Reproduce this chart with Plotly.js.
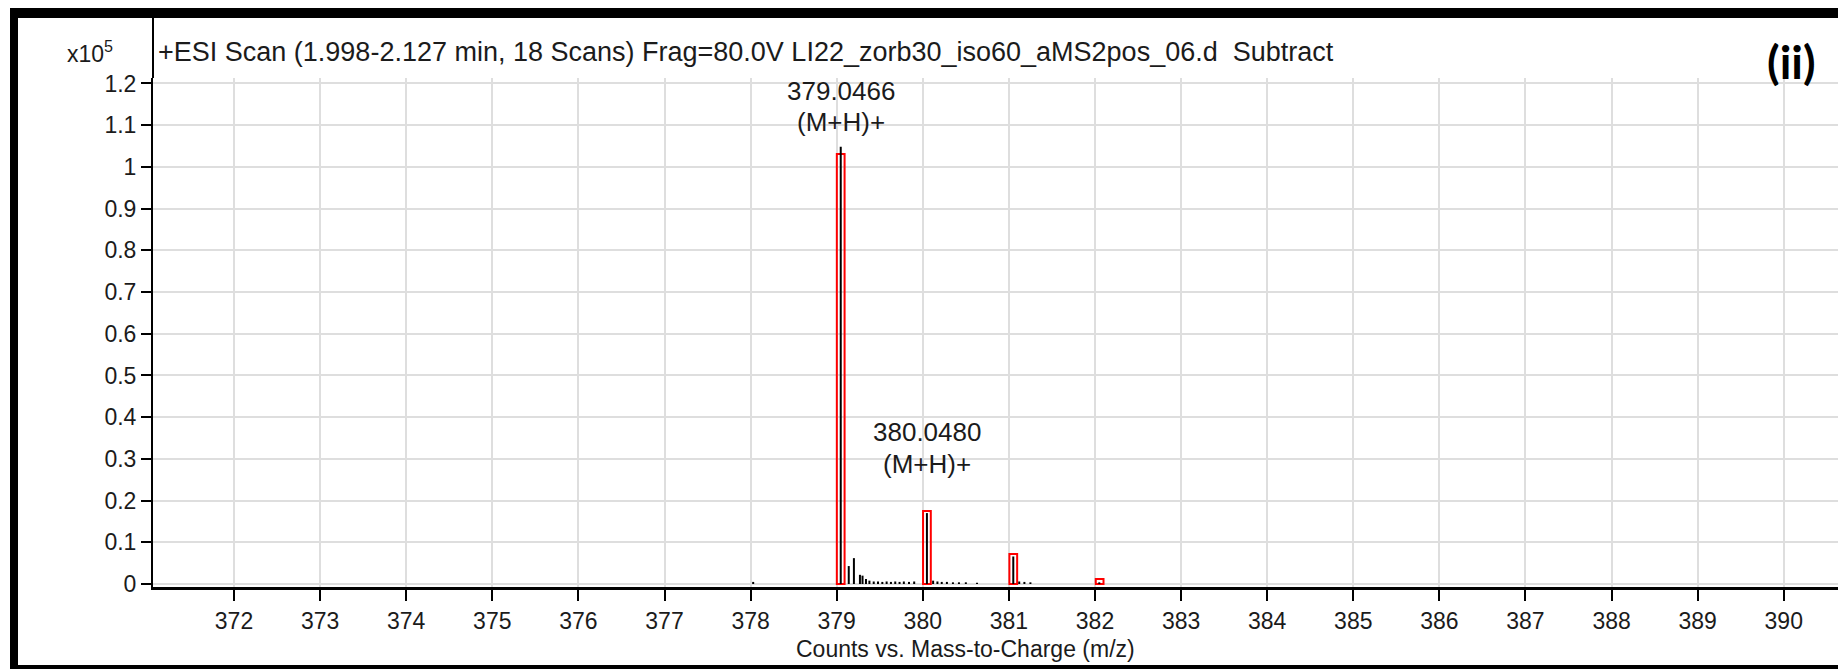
<!DOCTYPE html>
<html><head><meta charset="utf-8">
<script src="https://cdn.plot.ly/plotly-3.0.1.min.js"></script>
<style>html,body{margin:0;padding:0;background:#fff;overflow:hidden}#chart{width:1838px;height:669px}</style>
</head><body><div id="chart"></div>
<script>
// ---- data ----
const titleText = "+ESI Scan (1.998-2.127 min, 18 Scans) Frag=80.0V LI22_zorb30_iso60_aMS2pos_06.d\u00a0\u00a0Subtract";
const xAxisTitle = "Counts vs. Mass-to-Charge (m/z)";
const yScaleLabel = "x10<sup>5</sup>";
const panelLabel = "(ii)";
const xTickVals = [372,373,374,375,376,377,378,379,380,381,382,383,384,385,386,387,388,389,390];
const yTickVals = [0,0.1,0.2,0.3,0.4,0.5,0.6,0.7,0.8,0.9,1,1.1,1.2];
// measured spectrum (m/z, counts x10^5)
const specMz  = [378.03, 379.047, 379.14, 379.20, 379.27, 379.30, 379.34, 379.38, 379.43, 379.48, 379.53, 379.58, 379.63, 379.68, 379.73, 379.78, 379.84, 379.90,
                 380.048, 380.12, 380.17, 380.22, 380.28, 380.35, 380.42, 380.50, 380.63,
                 381.051, 381.12, 381.18, 381.25, 382.05];
const specInt = [0.005, 1.048, 0.043, 0.062, 0.022, 0.020, 0.012, 0.008, 0.006, 0.006, 0.005, 0.006, 0.005, 0.006, 0.005, 0.006, 0.005, 0.006,
                 0.170, 0.008, 0.006, 0.005, 0.005, 0.004, 0.004, 0.004, 0.003,
                 0.066, 0.006, 0.005, 0.004, 0.004];
// predicted isotope pattern boxes
const isoMz  = [379.0466, 380.0480, 381.051, 382.054];
const isoInt = [1.031, 0.175, 0.072, 0.012];
// peak labels
const labelMz    = [379.0466, 380.0480];
const labelMass  = ["379.0466", "380.0480"];
const labelIon   = ["(M+H)+", "(M+H)+"];
const labelMassY = [1.182, 0.364];
const labelIonY  = [1.107, 0.287];

// ---- build sticks ----
const sx = [], sy = [];
specMz.forEach((m, i) => { sx.push(m, m, null); sy.push(0, specInt[i], null); });

const FONT = "Liberation Sans, Arial, sans-serif";
const TXT = "#1b1b1b";
const W = 1838, H = 669, L = 153, T = 78, B = 82;
const plotH = H - T - B, plotW = W - L;
const py = p => (H - B - p) / plotH;   // pixel y -> paper y
const px = p => (p - L) / plotW;       // pixel x -> paper x

const traces = [
  {type: "bar", x: isoMz, y: isoInt, width: 0.09,
   marker: {color: "rgba(0,0,0,0)", line: {color: "#ff0000", width: 2}},
   hoverinfo: "skip", showlegend: false},
  {type: "scatter", mode: "lines", x: sx, y: sy,
   line: {color: "#000", width: 2}, hoverinfo: "skip", showlegend: false, connectgaps: false}
];

const annotations = [];
labelMz.forEach((m, i) => {
  annotations.push({x: m, y: labelMassY[i], xref: "x", yref: "y", text: labelMass[i], showarrow: false,
    xanchor: "center", yanchor: "middle", font: {family: FONT, size: 26, color: TXT}});
  annotations.push({x: m, y: labelIonY[i], xref: "x", yref: "y", text: labelIon[i], showarrow: false,
    xanchor: "center", yanchor: "middle", font: {family: FONT, size: 26, color: TXT}});
});
annotations.push(
  {xref: "paper", yref: "paper", x: 0, y: py(52), xshift: 3, xanchor: "left", yanchor: "middle",
   text: titleText, showarrow: false, font: {family: FONT, size: 27, color: TXT}},
  {xref: "paper", yref: "paper", x: 0, y: py(52), xshift: -38, xanchor: "right", yanchor: "middle",
   text: yScaleLabel, showarrow: false, font: {family: FONT, size: 23, color: TXT}},
  {xref: "paper", yref: "paper", x: px(1791), y: py(62), xanchor: "center", yanchor: "middle",
   text: "<b>" + panelLabel + "</b>", showarrow: false, font: {family: "Lato, Open Sans, sans-serif", size: 46, color: "#000"}},
  {xref: "paper", yref: "paper", x: px(965), y: py(649), xanchor: "center", yanchor: "middle",
   text: xAxisTitle, showarrow: false, font: {family: FONT, size: 23, color: TXT}}
);

const shapes = [
  // frame
  {type: "rect", xref: "paper", yref: "paper", x0: px(10), x1: px(18), y0: py(669), y1: py(8), fillcolor: "#000", line: {width: 0}},
  {type: "rect", xref: "paper", yref: "paper", x0: px(10), x1: px(1840), y0: py(18), y1: py(8), fillcolor: "#000", line: {width: 0}},
  {type: "rect", xref: "paper", yref: "paper", x0: px(10), x1: px(1840), y0: py(669), y1: py(665), fillcolor: "#000", line: {width: 0}},
  // y-axis line extending to the frame
  {type: "line", xref: "paper", yref: "paper", x0: 0, x1: 0, y0: 1, y1: py(18), line: {color: "#000", width: 2}}
];

const layout = {
  width: W, height: H, margin: {l: L, r: 0, t: T, b: B, pad: 0},
  paper_bgcolor: "#fff", plot_bgcolor: "#fff", showlegend: false, bargap: 0,
  xaxis: {range: [371.059, 390.63], tickmode: "array", tickvals: xTickVals, ticktext: xTickVals.map(String),
          showgrid: true, gridcolor: "#dedede", gridwidth: 2, zeroline: false,
          showline: true, linecolor: "#000", linewidth: 3, ticks: "outside", ticklen: 11, tickwidth: 2, tickcolor: "#000",
          tickfont: {family: FONT, size: 23, color: TXT}, fixedrange: true},
  yaxis: {range: [-0.0072, 1.2131], tickmode: "array", tickvals: yTickVals, ticktext: yTickVals.map(String),
          showgrid: true, gridcolor: "#dedede", gridwidth: 2, zeroline: false,
          showline: true, linecolor: "#000", linewidth: 2, ticks: "outside", ticklen: 10, tickwidth: 2, tickcolor: "#000",
          tickfont: {family: FONT, size: 23, color: TXT}, fixedrange: true},
  annotations: annotations, shapes: shapes
};

Plotly.newPlot("chart", traces, layout, {displayModeBar: false, staticPlot: true});
</script></body></html>
